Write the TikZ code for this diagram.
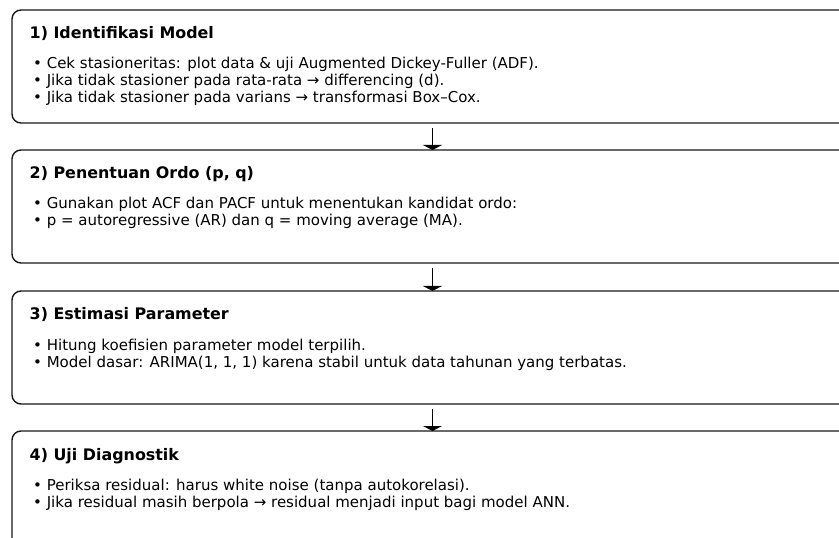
\documentclass[tikz,border=0pt]{standalone}
\usepackage{fontspec}
\setmainfont{DejaVu Sans}
\usetikzlibrary{arrows.meta}
\tikzset{
  box/.style={draw=black!90, line width=1.4bp, rounded corners=9bp, fill=white},
  ttl/.style={anchor=base west, inner sep=0pt, font=\bfseries\fontsize{15.9bp}{18bp}\selectfont},
  bul/.style={anchor=base west, inner sep=0pt, font=\fontsize{15bp}{17bp}\selectfont},
  flow/.style={line width=1.6bp, black, shorten <=5bp, -{Triangle[width=19bp,length=5bp]}}
}
\begin{document}
\begin{tikzpicture}[x=1bp,y=-1bp]
\useasboundingbox (0,0) rectangle (839,538);
\fill[white] (0,0) rectangle (839,538);
% boxes
\draw[box] (12,10) rectangle (870,123);
\draw[box] (12,150) rectangle (870,263);
\draw[box] (12,291) rectangle (870,404);
\draw[box] (12,431) rectangle (870,560);
\coordinate (b1) at (432.5,123);
\coordinate (b2t) at (432.5,150);
\coordinate (b2) at (432.5,263);
\coordinate (b3t) at (432.5,291);
\coordinate (b3) at (432.5,404);
\coordinate (b4t) at (432.5,431);
\draw[flow] (b1) -- (b2t);
\draw[flow] (b2) -- (b3t);
\draw[flow] (b3) -- (b4t);
% texts
\node[ttl] (t1) at (29.5,39) {1) Identifikasi Model};
\node[bul] (t1a) at (33,69) {• Cek stasioneritas: plot data \& uji Augmented Dickey-Fuller (ADF).};
\node[bul] (t1b) at (33,86) {• Jika tidak stasioner pada rata-rata → differencing (d).};
\node[bul] (t1c) at (33,103) {• Jika tidak stasioner pada varians → transformasi Box–Cox.};
\node[ttl] (t2) at (29.5,179) {2) Penentuan Ordo (p, q)};
\node[bul] (t2a) at (33,209) {• Gunakan plot ACF dan PACF untuk menentukan kandidat ordo:};
\node[bul] (t2b) at (33,226) {• p = autoregressive (AR) dan q = moving average (MA).};
\node[ttl] (t3) at (29.5,320) {3) Estimasi Parameter};
\node[bul] (t3a) at (33,350) {• Hitung koefisien parameter model terpilih.};
\node[bul] (t3b) at (33,367) {• Model dasar: ARIMA(1, 1, 1) karena stabil untuk data tahunan yang terbatas.};
\node[ttl] (t4) at (29.5,460) {4) Uji Diagnostik};
\node[bul] (t4a) at (33,490) {• Periksa residual: harus white noise (tanpa autokorelasi).};
\node[bul] (t4b) at (33,507) {• Jika residual masih berpola → residual menjadi input bagi model ANN.};
\end{tikzpicture}
\end{document}
